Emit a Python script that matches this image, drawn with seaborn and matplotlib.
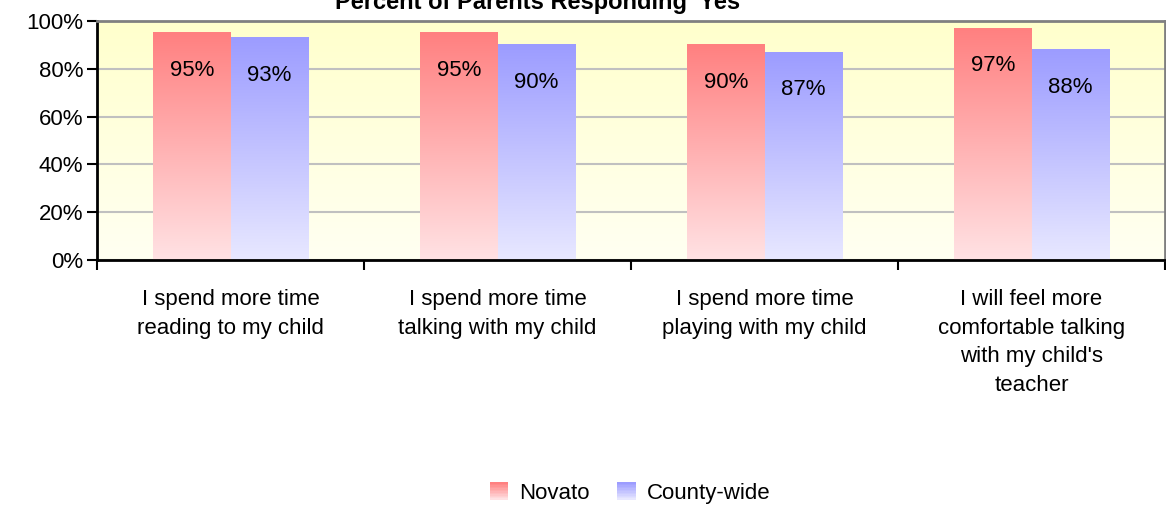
import numpy as np
import pandas as pd
import seaborn as sns
import matplotlib
matplotlib.use("Agg")
from matplotlib import pyplot as plt
from matplotlib.colors import LinearSegmentedColormap
from matplotlib.patches import Rectangle, Patch
from matplotlib.legend_handler import HandlerBase

categories = [
    "I spend more time\nreading to my child",
    "I spend more time\ntalking with my child",
    "I spend more time\nplaying with my child",
    "I will feel more\ncomfortable talking\nwith my child's\nteacher",
]
novato = [95, 95, 90, 97]
county = [93, 90, 87, 88]
series = ["Novato", "County-wide"]
yticks = [0, 20, 40, 60, 80, 100]

# top / bottom colours of each gradient
grad = {
    "Novato": ("#FF8080", "#FFE2E4"),
    "County-wide": ("#9C9CFF", "#E8E8FF"),
}

df = pd.DataFrame({
    "Category": categories * 2,
    "Series": [series[0]] * 4 + [series[1]] * 4,
    "Value": novato + county,
})

sns.set_style("white")
plt.rcParams["font.family"] = ["Liberation Sans", "DejaVu Sans"]
plt.rcParams["text.color"] = "black"
plt.rcParams["xtick.color"] = "black"
plt.rcParams["ytick.color"] = "black"

fig = plt.figure(figsize=(11.66, 5.11), dpi=100)
ax = fig.add_axes([97 / 1166, 1 - 260 / 511, (1165 - 97) / 1166, (260 - 21) / 511])

sns.barplot(data=df, x="Category", y="Value", hue="Series",
            palette=[grad[s][0] for s in series], width=0.58, gap=0,
            ax=ax, legend=False, saturation=1)

# background gradient
bg = np.linspace(0, 1, 256).reshape(-1, 1)
bg_cmap = LinearSegmentedColormap.from_list("bg", ["#FFFFCC", "#FFFFF2"])
ax.imshow(bg, cmap=bg_cmap, extent=[0, 1, 0, 1], transform=ax.transAxes,
          aspect="auto", zorder=0, origin="upper")

# replace solid bars with vertical gradients
for cont, s in zip(ax.containers, series):
    cmap = LinearSegmentedColormap.from_list(s, [grad[s][1], grad[s][0]])
    for bar, val in zip(cont, df.loc[df["Series"] == s, "Value"]):
        x0, w, h = bar.get_x(), bar.get_width(), bar.get_height()
        bar.set_visible(False)
        ax.imshow(np.linspace(0, 1, 256).reshape(-1, 1), cmap=cmap,
                  extent=[x0, x0 + w, 0, h], origin="lower",
                  aspect="auto", zorder=2)
        ax.annotate(f"{val}%", (x0 + w / 2, h), xytext=(0, -27),
                    textcoords="offset points", ha="center", va="center",
                    fontsize=16, zorder=3)

ax.set_xlim(-0.5, 3.5)
ax.set_ylim(0, 100)
ax.set_yticks(yticks)
ax.set_yticklabels([f"{t}%" for t in yticks], fontsize=16)
ax.yaxis.grid(True, color="#C0C0C0", lw=1.5)
ax.set_axisbelow(True)
ax.tick_params(axis="y", which="major", length=7, width=1.5,
               left=True, pad=3)

ax.set_xticks(range(4))
ax.set_xticklabels(categories, fontsize=16, linespacing=1.47, va="top")
ax.tick_params(axis="x", which="major", length=0, pad=21)
ax.set_xticks([-0.5, 0.5, 1.5, 2.5, 3.5], minor=True)
ax.tick_params(axis="x", which="minor", length=7, width=1.5, bottom=True)
ax.set_xlabel("")
ax.set_ylabel("")

for side in ("left", "bottom"):
    ax.spines[side].set_color("black")
    ax.spines[side].set_linewidth(2)
for side in ("top", "right"):
    ax.spines[side].set_visible(True)
    ax.spines[side].set_color("#808080")
    ax.spines[side].set_linewidth(2)

fig.text(540 / 1166, 1 - 2 / 511, "Percent of Parents Responding 'Yes'",
         ha="center", va="center", fontsize=17, fontweight="bold")


class GradientHandler(HandlerBase):
    def create_artists(self, legend, orig_handle, xdescent, ydescent,
                       width, height, fontsize, trans):
        top, bottom = orig_handle.colors
        cmap = LinearSegmentedColormap.from_list("h", [bottom, top])
        n = 12
        arts = []
        for i in range(n):
            arts.append(Rectangle((-xdescent, -ydescent + height * i / n),
                                  width, height / n + 0.3,
                                  facecolor=cmap(i / (n - 1)), lw=0,
                                  transform=trans))
        return arts


handles = []
for s in series:
    p = Patch(label=s)
    p.colors = grad[s]
    handles.append(p)

fig.legend(handles=handles, labels=series, loc="center",
           bbox_to_anchor=(630 / 1166, 1 - 493 / 511), ncol=2, frameon=False,
           fontsize=16, handler_map={Patch: GradientHandler()},
           handlelength=0.85, handleheight=0.85, handletextpad=0.5,
           columnspacing=1.2)

fig.savefig("out.png", dpi=100)
